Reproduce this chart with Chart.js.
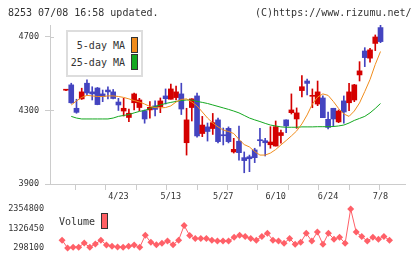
<!DOCTYPE html>
<html>
<head>
<meta charset="utf-8">
<script src="https://cdn.jsdelivr.net/npm/chart.js@4"></script>
<style>
body { margin: 0; background: #fff; }
#wrap { position: relative; width: 420px; height: 259px; font-family: "DejaVu Sans Mono", monospace; color: #333; }
#wrap canvas { position: absolute; left: 0; top: 0; }
.txt { position: absolute; font-size: 10px; line-height: 10px; white-space: pre; }
.sw { position: absolute; box-sizing: border-box; border: 1px solid #333; width: 7px; }
#lgbox { position: absolute; left: 66px; top: 30px; width: 77px; height: 47px; box-sizing: border-box; border: 2px solid #ddd; background: #fff; }
</style>
</head>
<body>
<div id="wrap">
  <canvas id="price" width="420" height="259"></canvas>
  <canvas id="vol" width="420" height="259"></canvas>
  <div class="txt" style="left:8px; top:8px;">8253 07/08 16:58 updated.</div>
  <div class="txt" style="left:255px; top:8px;">(C)https://www.rizumu.net/</div>
  <div id="lgbox"></div>
  <div class="txt" style="left:66px; width:59px; text-align:right; top:41px;">5-day MA</div>
  <div class="txt" style="left:66px; width:59px; text-align:right; top:58px;">25-day MA</div>
  <div class="sw" style="left:131px; top:37px; height:16px; background:#f08c1c;"></div>
  <div class="sw" style="left:131px; top:54px; height:16px; background:#14a820;"></div>
  <div class="txt" style="left:59px; top:217px;">Volume</div>
  <div class="sw" style="left:101px; top:213px; height:16px; background:#ff6064;"></div>
</div>
<script>
// daily prices, oldest first
const open = [4409, 4438, 4311, 4362, 4447, 4400, 4421, 4389, 4410, 4400,
  4345, 4296, 4261, 4341, 4315, 4298, 4302, 4324, 4320, 4378,
  4360, 4369, 4389, 4124, 4315, 4378, 4174, 4210, 4201, 4248,
  4166, 4202, 4074, 4132, 4043, 4048, 4085, 4139, 4135, 4113,
  4106, 4163, 4248, 4287, 4253, 4407, 4459, 4376, 4334, 4367,
  4251, 4311, 4237, 4351, 4341, 4356, 4492, 4622, 4583, 4663, 4749];
const high = [4411, 4447, 4360, 4420, 4465, 4428, 4424, 4410, 4427, 4413,
  4365, 4365, 4306, 4394, 4365, 4302, 4347, 4351, 4367, 4416,
  4443, 4432, 4447, 4311, 4363, 4393, 4267, 4231, 4283, 4258,
  4204, 4210, 4148, 4215, 4074, 4057, 4094, 4202, 4148, 4211,
  4242, 4193, 4248, 4389, 4313, 4488, 4470, 4416, 4459, 4378,
  4291, 4311, 4302, 4378, 4447, 4441, 4564, 4640, 4637, 4709, 4763];
const low = [4407, 4338, 4284, 4359, 4383, 4356, 4330, 4347, 4362, 4362,
  4299, 4269, 4238, 4302, 4298, 4230, 4257, 4269, 4287, 4334,
  4360, 4356, 4277, 4057, 4242, 4154, 4157, 4133, 4169, 4123,
  4112, 4123, 4068, 4030, 3961, 3967, 4016, 4106, 4052, 4094,
  4106, 4121, 4179, 4280, 4202, 4372, 4383, 4314, 4325, 4260,
  4199, 4211, 4233, 4230, 4298, 4347, 4459, 4537, 4561, 4624, 4667];
const close = [4409, 4341, 4289, 4400, 4394, 4389, 4331, 4375, 4400, 4364,
  4329, 4311, 4284, 4389, 4356, 4253, 4316, 4305, 4351, 4363,
  4416, 4400, 4307, 4248, 4362, 4161, 4220, 4185, 4233, 4130,
  4162, 4130, 4088, 4070, 4027, 4037, 4043, 4135, 4124, 4128,
  4211, 4179, 4215, 4302, 4286, 4428, 4446, 4376, 4400, 4260,
  4207, 4253, 4296, 4291, 4400, 4438, 4514, 4586, 4628, 4698, 4673];
const ma5 = [null, 4329, 4351, 4370, 4381, 4378, 4375, 4375, 4378, 4378,
  4375, 4370, 4362, 4353, 4345, 4334, 4321, 4315, 4313, 4315,
  4324, 4345, 4359, 4362, 4345, 4324, 4291, 4258, 4231, 4210,
  4193, 4185, 4174, 4142, 4114, 4101, 4076, 4057, 4057, 4068,
  4087, 4112, 4136, 4161, 4188, 4226, 4275, 4334, 4372, 4389,
  4381, 4348, 4310, 4280, 4267, 4296, 4340, 4402, 4467, 4549, 4619];
const ma25 = [null, 4267, 4258, 4253, 4253, 4253, 4253, 4253, 4253, 4258,
  4267, 4272, 4277, 4286, 4294, 4299, 4310, 4321, 4329, 4337,
  4343, 4348, 4353, 4356, 4356, 4348, 4343, 4337, 4329, 4321,
  4313, 4305, 4296, 4286, 4272, 4258, 4248, 4239, 4229, 4220,
  4215, 4210, 4208, 4208, 4208, 4210, 4210, 4210, 4211, 4211,
  4211, 4212, 4215, 4220, 4231, 4245, 4256, 4267, 4286, 4310, 4337];
const volume = [null, 709000, 298100, 334000, 334000, 555000, 334000, 504000, 709000, 452000,
  386000, 350000, 334000, 386000, 452000, 334000, 966000, 591000, 468000, 540000,
  658000, 468000, 709000, 1481000, 951000, 797000, 797000, 797000, 709000, 658000,
  658000, 658000, 864000, 966000, 900000, 797000, 709000, 900000, 1069000, 709000,
  658000, 540000, 797000, 488000, 591000, 1069000, 658000, 1136000, 488000, 1069000,
  761000, 864000, 540000, 2354800, 1136000, 900000, 658000, 864000, 761000, 900000, 709000];
const dateIdx = [10, 20, 30, 40, 50, 60];
const dateLbl = ["4/23", "5/13", "5/27", "6/10", "6/24", "7/8"];
const priceTicks = [3900, 4300, 4700];
const volTicks = [298100, 1326450, 2354800];

const xMin = -1.17, xMax = 62.79;
const idx = open.map((_, i) => i);
const colors = idx.map(i => close[i] >= open[i] ? "#d40000" : "#4444c0");
const axisGray = "#cccccc";
const tickFont = { family: "DejaVu Sans Mono", size: 8.5 };

// 11 even divisions along the bottom axis plus the date label spots
const markTicks = [];
for (let k = 0; k <= 11; k++) markTicks.push(xMin + (xMax - xMin) * k / 11);

// price ticks also poke a few px into the plot
const innerTicks = {
    id: "innerTicks",
    afterDraw(chart) {
        const y = chart.scales.y, ctx = chart.ctx;
        ctx.save();
        ctx.strokeStyle = axisGray;
        ctx.lineWidth = 1;
        priceTicks.forEach(v => {
            const py = Math.round(y.getPixelForValue(v)) + 0.5;
            ctx.beginPath();
            ctx.moveTo(y.right, py);
            ctx.lineTo(y.right + 4, py);
            ctx.stroke();
        });
        ctx.restore();
    },
};

new Chart(document.getElementById("price"), {
    data: {
        datasets: [
            { type: "line", data: idx.map(i => ({ x: i, y: ma5[i] })), borderColor: "#f08c1c", borderWidth: 1, pointRadius: 0 },
            { type: "line", data: idx.map(i => ({ x: i, y: ma25[i] })), borderColor: "#14a820", borderWidth: 1, pointRadius: 0 },
            { type: "bar", data: idx.map(i => ({ x: i, y: [open[i], close[i]] })), backgroundColor: colors, barThickness: 5, minBarLength: 1, grouped: false },
            { type: "bar", data: idx.map(i => ({ x: i, y: [low[i], high[i]] })), backgroundColor: colors, barThickness: 1, grouped: false },
        ],
    },
    options: {
        responsive: false,
        animation: false,
        layout: { padding: { top: 25, right: 15, bottom: 54, left: 0 } },
        plugins: { legend: { display: false }, tooltip: { enabled: false } },
        scales: {
            x: {
                type: "linear", min: xMin, max: xMax,
                afterBuildTicks: s => { s.ticks = markTicks.concat(dateIdx).map(v => ({ value: v })); },
                afterFit: s => { s.height = 21; },
                grid: {
                    drawOnChartArea: false, tickLength: 6,
                    tickColor: c => (c.tick && dateIdx.includes(c.tick.value)) ? "rgba(0,0,0,0)" : axisGray,
                },
                border: { color: axisGray },
                ticks: {
                    autoSkip: false, maxRotation: 0, padding: 2, color: "#333", font: tickFont,
                    callback: v => { const k = dateIdx.indexOf(v); return k >= 0 ? dateLbl[k] : ""; },
                },
            },
            y: {
                min: 3900, max: 4763,
                afterBuildTicks: s => { s.ticks = priceTicks.map(v => ({ value: v })); },
                afterFit: s => { s.width = 50; },
                grid: { drawOnChartArea: false, tickLength: 5, tickColor: axisGray },
                border: { color: axisGray },
                ticks: { padding: 6, color: "#333", font: tickFont, callback: v => String(v) },
            },
        },
    },
    plugins: [innerTicks],
});

new Chart(document.getElementById("vol"), {
    type: "line",
    data: {
        datasets: [{
            data: idx.map(i => ({ x: i, y: volume[i] })),
            borderColor: "#ff6068", backgroundColor: "#ff6068", borderWidth: 1,
            pointStyle: "rectRot", pointRadius: 3.5, pointBorderWidth: 0, clip: false,
        }],
    },
    options: {
        responsive: false,
        animation: false,
        layout: { padding: { top: 209, right: 15, bottom: 10, left: 0 } },
        plugins: { legend: { display: false }, tooltip: { enabled: false } },
        scales: {
            x: { type: "linear", min: xMin, max: xMax, display: false },
            y: {
                min: 298100, max: 2354800,
                afterBuildTicks: s => { s.ticks = volTicks.map(v => ({ value: v })); },
                afterFit: s => { s.width = 50; },
                grid: { display: false, drawTicks: false },
                border: { display: false },
                ticks: { padding: 6, color: "#333", font: tickFont, callback: v => String(v) },
            },
        },
    },
});
</script>
</body>
</html>
